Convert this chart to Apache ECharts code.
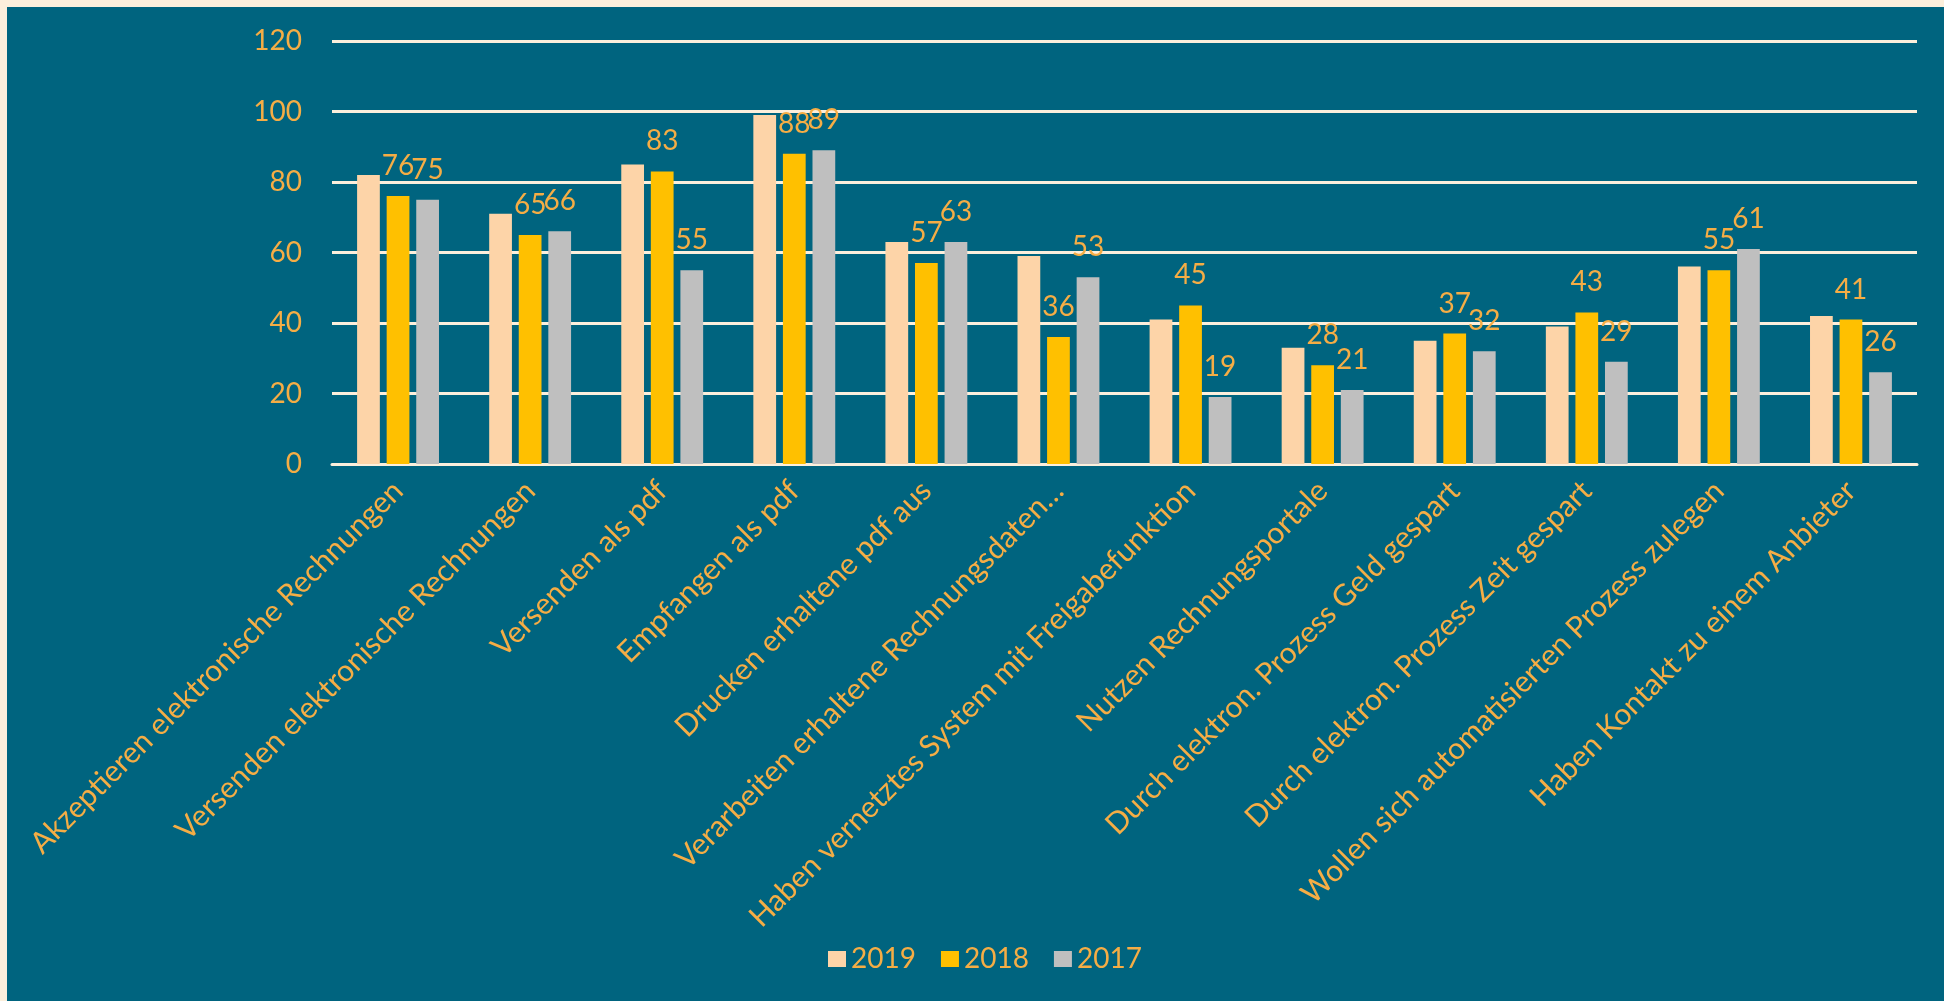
<!DOCTYPE html>
<html>
<head>
<meta charset="utf-8">
<script src="https://cdn.jsdelivr.net/npm/echarts@6/dist/echarts.min.js"></script>
<style>
  html, body { margin: 0; padding: 0; background: #FCEFDC; }
  #frame { width: 1944px; height: 1001px; box-sizing: border-box; border-top: 7px solid #FCEFDC; border-left: 7px solid #FCEFDC; background: #00647F; }
  #chart { width: 1937px; height: 994px; }
</style>
</head>
<body>
<div id="frame"><div id="chart"></div></div>
<script>
const categories = [
  'Akzeptieren elektronische Rechnungen',
  'Versenden elektronische Rechnungen',
  'Versenden als pdf',
  'Empfangen als pdf',
  'Drucken erhaltene pdf aus',
  'Verarbeiten erhaltene Rechnungsdaten…',
  'Haben vernetztes System mit Freigabefunktion',
  'Nutzen Rechnungsportale',
  'Durch elektron. Prozess Geld gespart',
  'Durch elektron. Prozess Zeit gespart',
  'Wollen sich automatisierten Prozess zulegen',
  'Haben Kontakt zu einem Anbieter'
];
const values2019 = [82, 71, 85, 99, 63, 59, 41, 33, 35, 39, 56, 42];
const values2018 = [76, 65, 83, 88, 57, 36, 45, 28, 37, 43, 55, 41];
const values2017 = [75, 66, 55, 89, 63, 53, 19, 21, 32, 29, 61, 26];
const seriesNames = ['2019', '2018', '2017'];
const yTicks = { min: 0, max: 120, interval: 20 };

const TEXT = '#F5AD45';
const GRID = '#FCEFDC';
const FONT = 'Lato, "Open Sans", sans-serif';

const chart = echarts.init(document.getElementById('chart'));
const labelCfg = {
  show: true, position: 'top', distance: 16,
  color: TEXT, fontFamily: FONT, fontSize: 28
};
chart.setOption({
  backgroundColor: '#00647F',
  animation: false,
  textStyle: { fontFamily: FONT },
  grid: { left: 325, right: 27, top: 34, bottom: 537, containLabel: false },
  legend: {
    data: seriesNames,
    left: 816, top: 930,
    itemWidth: 18, itemHeight: 16, itemGap: 25,
    icon: 'rect',
    textStyle: { color: TEXT, fontSize: 28, fontFamily: FONT, lineHeight: 34, padding: [0, 0, 0, 0] }
  },
  xAxis: {
    type: 'category',
    data: categories,
    axisLine: { show: true, lineStyle: { color: GRID, width: 3 } },
    axisTick: { show: false },
    axisLabel: {
      interval: 0, rotate: 45, margin: 22,
      color: TEXT, fontSize: 30, fontFamily: FONT
    }
  },
  yAxis: {
    type: 'value',
    min: yTicks.min, max: yTicks.max, interval: yTicks.interval,
    axisLine: { show: false },
    axisTick: { show: false },
    splitLine: { show: true, lineStyle: { color: GRID, width: 3 } },
    axisLabel: { margin: 30, color: TEXT, fontSize: 28, fontFamily: FONT }
  },
  series: [
    { name: seriesNames[0], type: 'bar', data: values2019, itemStyle: { color: '#FDD4A8' },
      barGap: '30%', barCategoryGap: '38%' },
    { name: seriesNames[1], type: 'bar', data: values2018, itemStyle: { color: '#FFC000' }, label: labelCfg },
    { name: seriesNames[2], type: 'bar', data: values2017, itemStyle: { color: '#BFBFBF' }, label: labelCfg }
  ]
});
</script>
</body>
</html>
